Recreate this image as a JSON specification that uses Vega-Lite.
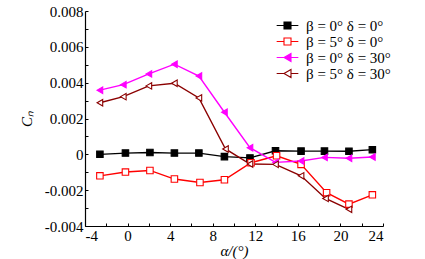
{
  "$schema": "https://vega.github.io/schema/vega-lite/v6.json",
  "width": 298,
  "height": 215,
  "autosize": {"type": "none"},
  "padding": {"left": 85, "top": 11, "right": 42, "bottom": 33},
  "background": "white",
  "config": {
    "view": {"stroke": null},
    "font": "Liberation Serif",
    "legend": {"labelFont": "Liberation Serif", "labelFontSize": 15, "labelColor": "black", "symbolSize": 49},
    "axis": {
      "domainColor": "black", "tickColor": "black", "labelColor": "black", "titleColor": "black",
      "grid": false, "labelFont": "Liberation Serif", "labelFontSize": 15,
      "titleFont": "Liberation Serif", "titleFontWeight": "normal", "titleFontSize": 15,
      "tickSize": -3, "domainWidth": 1.2, "tickWidth": 1
    }
  },
  "data": {"values": [
    {"s": "β = 0° δ = 0°", "alpha": -2.6, "cn": 0.0},
    {"s": "β = 0° δ = 0°", "alpha": -0.2, "cn": 0.00007},
    {"s": "β = 0° δ = 0°", "alpha": 2.1, "cn": 0.0001},
    {"s": "β = 0° δ = 0°", "alpha": 4.4, "cn": 0.00007},
    {"s": "β = 0° δ = 0°", "alpha": 6.7, "cn": 0.00007},
    {"s": "β = 0° δ = 0°", "alpha": 9.1, "cn": -0.00013},
    {"s": "β = 0° δ = 0°", "alpha": 11.5, "cn": -0.0002},
    {"s": "β = 0° δ = 0°", "alpha": 13.9, "cn": 0.0002},
    {"s": "β = 0° δ = 0°", "alpha": 16.3, "cn": 0.00018},
    {"s": "β = 0° δ = 0°", "alpha": 18.5, "cn": 0.00018},
    {"s": "β = 0° δ = 0°", "alpha": 20.8, "cn": 0.00017},
    {"s": "β = 0° δ = 0°", "alpha": 23.0, "cn": 0.00026},
    {"s": "β = 5° δ = 0°", "alpha": -2.6, "cn": -0.0012},
    {"s": "β = 5° δ = 0°", "alpha": -0.2, "cn": -0.00099},
    {"s": "β = 5° δ = 0°", "alpha": 2.1, "cn": -0.0009},
    {"s": "β = 5° δ = 0°", "alpha": 4.4, "cn": -0.00138},
    {"s": "β = 5° δ = 0°", "alpha": 6.8, "cn": -0.00157},
    {"s": "β = 5° δ = 0°", "alpha": 9.1, "cn": -0.00142},
    {"s": "β = 5° δ = 0°", "alpha": 11.6, "cn": -0.00047},
    {"s": "β = 5° δ = 0°", "alpha": 14.0, "cn": -0.00008},
    {"s": "β = 5° δ = 0°", "alpha": 16.3, "cn": -0.00056},
    {"s": "β = 5° δ = 0°", "alpha": 18.7, "cn": -0.00214},
    {"s": "β = 5° δ = 0°", "alpha": 20.8, "cn": -0.00278},
    {"s": "β = 5° δ = 0°", "alpha": 23.0, "cn": -0.00226},
    {"s": "β = 0° δ = 30°", "alpha": -2.6, "cn": 0.00358},
    {"s": "β = 0° δ = 30°", "alpha": -0.4, "cn": 0.00389},
    {"s": "β = 0° δ = 30°", "alpha": 2.0, "cn": 0.00449},
    {"s": "β = 0° δ = 30°", "alpha": 4.4, "cn": 0.00503},
    {"s": "β = 0° δ = 30°", "alpha": 6.7, "cn": 0.00437},
    {"s": "β = 0° δ = 30°", "alpha": 9.1, "cn": 0.00235},
    {"s": "β = 0° δ = 30°", "alpha": 11.5, "cn": 0.00037},
    {"s": "β = 0° δ = 30°", "alpha": 13.9, "cn": -0.00045},
    {"s": "β = 0° δ = 30°", "alpha": 16.3, "cn": -0.00037},
    {"s": "β = 0° δ = 30°", "alpha": 18.5, "cn": -0.00017},
    {"s": "β = 0° δ = 30°", "alpha": 20.8, "cn": -0.00022},
    {"s": "β = 0° δ = 30°", "alpha": 23.0, "cn": -0.00015},
    {"s": "β = 5° δ = 30°", "alpha": -2.6, "cn": 0.00288},
    {"s": "β = 5° δ = 30°", "alpha": -0.4, "cn": 0.00322},
    {"s": "β = 5° δ = 30°", "alpha": 2.0, "cn": 0.00382},
    {"s": "β = 5° δ = 30°", "alpha": 4.4, "cn": 0.00397},
    {"s": "β = 5° δ = 30°", "alpha": 6.7, "cn": 0.00315},
    {"s": "β = 5° δ = 30°", "alpha": 9.2, "cn": 0.0003},
    {"s": "β = 5° δ = 30°", "alpha": 11.5, "cn": -0.00054},
    {"s": "β = 5° δ = 30°", "alpha": 13.9, "cn": -0.00056},
    {"s": "β = 5° δ = 30°", "alpha": 16.3, "cn": -0.0012},
    {"s": "β = 5° δ = 30°", "alpha": 18.6, "cn": -0.00246},
    {"s": "β = 5° δ = 30°", "alpha": 20.8, "cn": -0.00307}
  ]},
  "encoding": {
    "x": {
      "field": "alpha", "type": "quantitative",
      "scale": {"domain": [-4, 24], "nice": false, "zero": false},
      "axis": {
        "values": [-4, -2, 0, 2, 4, 6, 8, 10, 12, 14, 16, 18, 20, 22, 24],
        "labelExpr": "datum.value % 4 == 0 ? replace(datum.label, '−', '-') : ''",
        "title": "α/(°)", "titleFontStyle": "italic", "labelPadding": 5, "titlePadding": 0
      }
    },
    "y": {
      "field": "cn", "type": "quantitative",
      "scale": {"domain": [-0.004, 0.008], "nice": false, "zero": false},
      "axis": {
        "values": [-0.004, -0.003, -0.002, -0.001, 0, 0.001, 0.002, 0.003, 0.004, 0.005, 0.006, 0.007, 0.008],
        "format": ".3~f",
        "labelExpr": "round(datum.value * 1000) % 2 == 0 ? replace(datum.label, '−', '-') : ''",
        "title": "Cₙ", "titleFontStyle": "italic", "labelPadding": 5, "titlePadding": 10
      }
    }
  },
  "layer": [
    {
      "mark": {"type": "line", "strokeWidth": 1.4},
      "encoding": {
        "color": {
          "field": "s", "type": "nominal",
          "scale": {"domain": ["β = 0° δ = 0°", "β = 5° δ = 0°", "β = 0° δ = 30°", "β = 5° δ = 30°"], "range": ["black", "#ff0000", "#ff00ff", "#8b0000"]},
          "legend": null
        }
      }
    },
    {
      "mark": {"type": "point", "opacity": 1, "strokeWidth": 1.1, "size": 42},
      "encoding": {
        "shape": {"field": "s", "type": "nominal", "scale": {"domain": ["β = 0° δ = 0°", "β = 5° δ = 0°", "β = 0° δ = 30°", "β = 5° δ = 30°"], "range": ["square", "square", "triangle-left", "triangle-left"]}, "legend": null},
        "fill": {"field": "s", "type": "nominal", "scale": {"domain": ["β = 0° δ = 0°", "β = 5° δ = 0°", "β = 0° δ = 30°", "β = 5° δ = 30°"], "range": ["black", "white", "#ff00ff", "white"]}, "legend": null},
        "stroke": {"field": "s", "type": "nominal", "scale": {"domain": ["β = 0° δ = 0°", "β = 5° δ = 0°", "β = 0° δ = 30°", "β = 5° δ = 30°"], "range": ["black", "#ff0000", "#ff00ff", "#8b0000"]}, "legend": null}
      }
    },
    {
      "transform": [{"filter": "false"}],
      "mark": {"type": "point", "opacity": 1, "strokeWidth": 1.1, "size": 49},
      "encoding": {
        "shape": {"field": "s", "type": "nominal", "scale": {"domain": ["β = 0° δ = 0°", "β = 5° δ = 0°", "β = 0° δ = 30°", "β = 5° δ = 30°"], "range": ["M-3.1,0H-1M1,0H3.1M-1,-1H1V1H-1Z", "M-3.1,0H-1M1,0H3.1M-1,-1H1V1H-1Z", "M-3.1,0H-1M1,0H3.1M-1,0L1,-1.15L1,1.15Z", "M-3.1,0H-1M1,0H3.1M-1,0L1,-1.15L1,1.15Z"]},
          "legend": {"title": null, "orient": "none", "legendX": 195, "legendY": 7, "labelFont": "Liberation Serif", "labelFontSize": 15, "labelColor": "black", "rowPadding": -3, "labelOffset": 11, "symbolStrokeWidth": 1.1, "symbolSize": 49}},
        "fill": {"field": "s", "type": "nominal", "scale": {"domain": ["β = 0° δ = 0°", "β = 5° δ = 0°", "β = 0° δ = 30°", "β = 5° δ = 30°"], "range": ["black", "white", "#ff00ff", "white"]},
          "legend": {"title": null, "orient": "none", "legendX": 195, "legendY": 7, "labelFont": "Liberation Serif", "labelFontSize": 15, "labelColor": "black", "rowPadding": -3, "labelOffset": 11, "symbolStrokeWidth": 1.1, "symbolSize": 49}},
        "stroke": {"field": "s", "type": "nominal", "scale": {"domain": ["β = 0° δ = 0°", "β = 5° δ = 0°", "β = 0° δ = 30°", "β = 5° δ = 30°"], "range": ["black", "#ff0000", "#ff00ff", "#8b0000"]},
          "legend": {"title": null, "orient": "none", "legendX": 195, "legendY": 7, "labelFont": "Liberation Serif", "labelFontSize": 15, "labelColor": "black", "rowPadding": -3, "labelOffset": 11, "symbolStrokeWidth": 1.1, "symbolSize": 49}}
      }
    }
  ],
  "resolve": {"scale": {"shape": "independent", "fill": "independent", "stroke": "independent"}}
}
